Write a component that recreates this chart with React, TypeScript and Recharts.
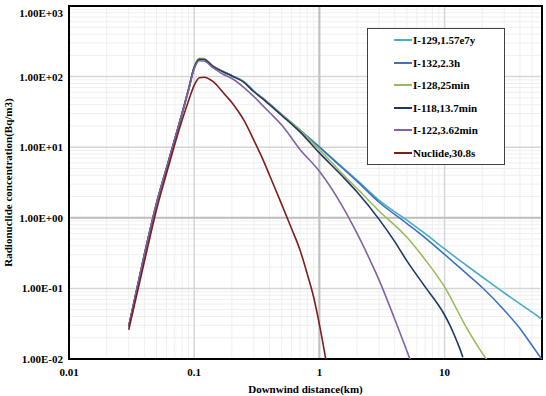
import { LineChart, Line, XAxis, YAxis, CartesianGrid, ReferenceLine, ReferenceArea, Legend } from 'recharts';

const font = '"Liberation Serif", "Times New Roman", serif';

// axis ticks
const xTicks = [0.01, 0.1, 1, 10];
const yTicks = [0.01, 0.1, 1, 10, 100, 1000];
const xMax = 60;

// I-129
const i129Dist = [0.03, 0.04, 0.05, 0.06, 0.07, 0.08, 0.09, 0.1, 0.11, 0.12, 0.14, 0.17, 0.2, 0.25, 0.3, 0.35, 0.4, 0.5, 0.7, 1, 1.5, 2, 3, 5, 7, 10, 15, 20, 30, 40, 50, 60];
const i129Conc = [0.029, 0.3, 1.6, 5.0, 13, 30, 65, 135, 178, 176, 142, 118, 103, 84, 62, 50, 41, 29, 17.5, 10.1, 5.35, 3.41, 1.77, 0.925, 0.596, 0.362, 0.211, 0.145, 0.086, 0.0605, 0.046, 0.0364];

// I-132
const i132Dist = [0.03, 0.04, 0.05, 0.06, 0.07, 0.08, 0.09, 0.1, 0.11, 0.12, 0.14, 0.17, 0.2, 0.25, 0.3, 0.35, 0.4, 0.5, 0.7, 1, 1.5, 2, 3, 5, 7, 10, 15, 20, 30, 40, 50, 60];
const i132Conc = [0.029, 0.3, 1.6, 5.0, 13, 30, 65, 135, 178, 176, 142, 118, 103, 84, 62, 50, 41, 29, 17.5, 10.0, 5.2, 3.28, 1.66, 0.83, 0.52, 0.303, 0.162, 0.103, 0.049, 0.027, 0.0155, 0.0098];

// I-128
const i128Dist = [0.03, 0.04, 0.05, 0.06, 0.07, 0.08, 0.09, 0.1, 0.11, 0.12, 0.14, 0.17, 0.2, 0.25, 0.3, 0.35, 0.4, 0.5, 0.7, 1, 1.5, 2, 3, 5, 7, 10, 15, 20, 22];
const i128Conc = [0.029, 0.3, 1.6, 5.0, 13, 30, 66, 137, 182, 180, 144, 119, 103, 84, 62, 50, 41, 29, 17.3, 9.25, 4.35, 2.6, 1.25, 0.53, 0.255, 0.105, 0.0276, 0.0121, 0.0095];

// I-118
const i118Dist = [0.03, 0.04, 0.05, 0.06, 0.07, 0.08, 0.09, 0.1, 0.11, 0.12, 0.14, 0.17, 0.2, 0.25, 0.3, 0.35, 0.4, 0.5, 0.7, 1, 1.5, 2, 3, 4, 5, 7, 10, 11, 12, 13, 14];
const i118Conc = [0.029, 0.3, 1.6, 5.0, 13, 30, 65, 134, 176, 175, 141, 117, 102, 83, 61, 49, 40, 28.3, 16.5, 8.3, 4.0, 2.32, 0.95, 0.46, 0.245, 0.105, 0.042, 0.0304, 0.0215, 0.0152, 0.0106];

// I-122
const i122Dist = [0.03, 0.04, 0.05, 0.06, 0.07, 0.08, 0.09, 0.1, 0.11, 0.12, 0.14, 0.17, 0.2, 0.25, 0.3, 0.35, 0.4, 0.5, 0.7, 1, 1.5, 2, 2.5, 3, 4, 5, 5.3];
const i122Conc = [0.029, 0.3, 1.6, 5.0, 13, 30, 63, 128, 168, 166, 135, 108, 94, 70, 52, 39.5, 31, 20.6, 9.3, 4.56, 1.54, 0.6, 0.267, 0.131, 0.0366, 0.013, 0.0099];

// Nuclide 30.8s
const nucDist = [0.03, 0.04, 0.05, 0.06, 0.07, 0.08, 0.09, 0.1, 0.11, 0.12, 0.14, 0.16, 0.18, 0.2, 0.22, 0.25, 0.3, 0.35, 0.4, 0.5, 0.6, 0.7, 0.8, 0.9, 1.0, 1.13];
const nucConc = [0.026, 0.24, 1.3, 4.2, 11, 24, 45, 75, 96, 98, 86, 68, 53, 43, 34, 24, 12.5, 7.0, 4.0, 1.55, 0.7, 0.35, 0.16, 0.075, 0.031, 0.0095];

const series = [
  { name: 'I-129,1.57e7y', color: '#4bacc6', dist: i129Dist, conc: i129Conc },
  { name: 'I-132,2.3h', color: '#3d72c0', dist: i132Dist, conc: i132Conc },
  { name: 'I-128,25min', color: '#9bbb59', dist: i128Dist, conc: i128Conc },
  { name: 'I-118,13.7min', color: '#1f3864', dist: i118Dist, conc: i118Conc },
  { name: 'I-122,3.62min', color: '#8064a2', dist: i122Dist, conc: i122Conc },
  { name: 'Nuclide,30.8s', color: '#7b1f1f', dist: nucDist, conc: nucConc },
];

const toPoints = (dist: number[], conc: number[]) => dist.map((x, i) => ({ x, y: conc[i] }));

const steps = [2, 3, 4, 5, 6, 7, 8, 9];
const minorX = xTicks.flatMap((d) => steps.map((k) => k * d)).filter((v) => v < xMax);
const minorY = yTicks.slice(0, -1).flatMap((d) => steps.map((k) => k * d));

const fmtY = (v: number) => {
  const [m, e] = v.toExponential(2).toUpperCase().split('E');
  const n = parseInt(e, 10);
  return `${m}E${n < 0 ? '-' : '+'}${String(Math.abs(n)).padStart(2, '0')}`;
};

const textStyle = { fontSize: 11, fontWeight: 700, fill: '#000', fontFamily: font };

const YTick = (props: any) => {
  const { x, y, payload } = props;
  const shift = payload.value === yTicks[yTicks.length - 1] ? 7 : 0;
  return (
    <text x={x} y={y + shift} dy={4} textAnchor="end" {...textStyle}>
      {fmtY(payload.value)}
    </text>
  );
};

const LegendBox = () => (
  <div style={{ width: 138, height: 137, boxSizing: 'border-box', border: '1.5px solid #404040', background: '#fff' }}>
    {series.map((s) => (
      <div key={s.name} style={{ display: 'flex', alignItems: 'center', height: 22.5 }}>
        <span style={{ marginLeft: 26, width: 18, height: 2, background: s.color, display: 'inline-block' }} />
        <span style={{ marginLeft: 1, fontFamily: font, fontWeight: 700, fontSize: 11, color: '#000' }}>{s.name}</span>
      </div>
    ))}
  </div>
);

export default function App() {
  return (
    <div style={{ position: 'absolute', left: 0, top: 0 }}>
      <LineChart width={546} height={396} margin={{ top: 6, right: 4, bottom: 0, left: 0 }}>
        <CartesianGrid horizontalValues={minorY} verticalValues={minorX} stroke="#efefef" strokeWidth={1} />
        <CartesianGrid horizontalValues={yTicks} verticalValues={xTicks} stroke="#d6d6d6" strokeWidth={1.5} />
        <XAxis
          dataKey="x"
          type="number"
          scale="log"
          domain={[0.01, xMax]}
          ticks={xTicks}
          interval={0}
          allowDataOverflow
          height={37}
          tickLine={false}
          axisLine={false}
          tickSize={6}
          tickMargin={3}
          tick={textStyle}
          tickFormatter={(v: number) => String(v)}
          label={{ value: 'Downwind distance(km)', position: 'insideBottom', offset: 3, style: textStyle }}
        />
        <YAxis
          type="number"
          scale="log"
          domain={[0.01, 1000]}
          ticks={yTicks}
          interval={0}
          allowDataOverflow
          width={69}
          tickLine={false}
          axisLine={false}
          tickSize={4}
          tickMargin={2}
          tick={<YTick />}
          label={{ value: 'Radionuclide concentration(Bq/m3)', angle: -90, position: 'insideLeft', offset: 8, style: { ...textStyle, textAnchor: 'middle' } }}
        />
        <ReferenceLine x={1} stroke="#bfbfbf" strokeWidth={2} zIndex={-50} />
        <ReferenceLine y={1} stroke="#bfbfbf" strokeWidth={2} zIndex={-50} />
        {series.map((s) => (
          <Line
            key={s.name}
            name={s.name}
            data={toPoints(s.dist, s.conc)}
            dataKey="y"
            type="monotone"
            stroke={s.color}
            strokeWidth={1.6}
            dot={false}
            isAnimationActive={false}
          />
        ))}
        <ReferenceArea x1={0.01} x2={xMax} y1={0.01} y2={1000} fill="none" stroke="#000" strokeWidth={2} />
        <Legend
          layout="vertical"
          align="center"
          verticalAlign="middle"
          wrapperStyle={{ left: 367, top: 28, width: 138, height: 137 }}
          content={<LegendBox />}
        />
      </LineChart>
    </div>
  );
}
